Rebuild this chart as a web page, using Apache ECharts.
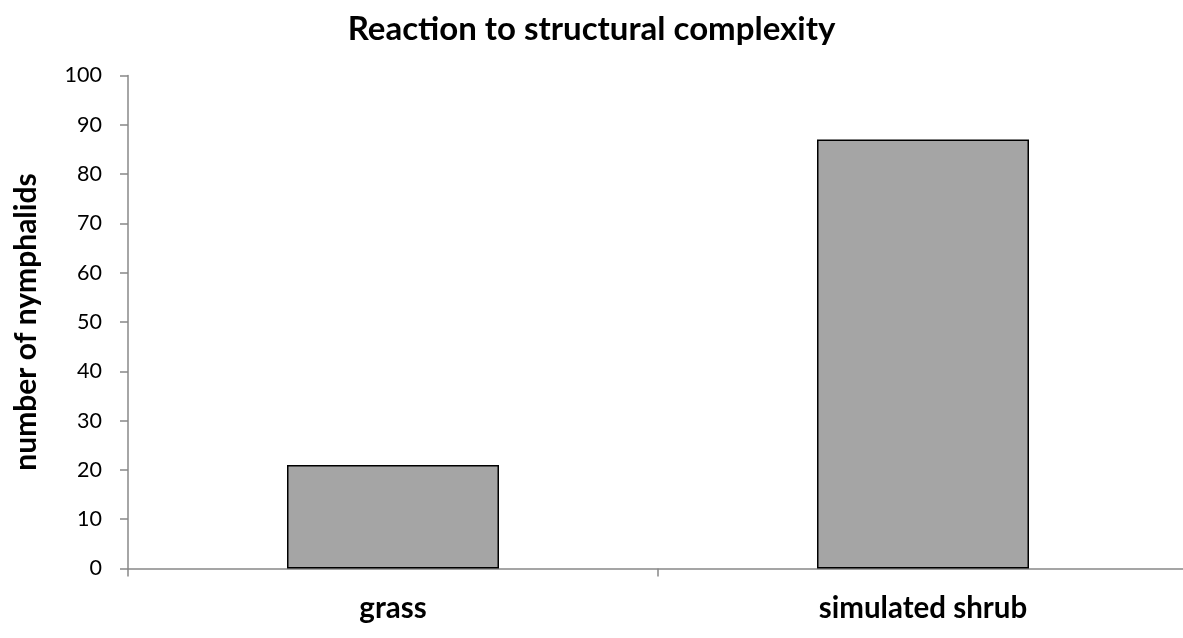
<!DOCTYPE html>
<html>
<head>
<meta charset="utf-8">
<script src="https://cdn.jsdelivr.net/npm/echarts@6/dist/echarts.min.js"></script>
<style>
  html, body { margin: 0; padding: 0; background: #fff; }
  #chart { width: 1183px; height: 638px; }
</style>
</head>
<body>
<div id="chart"></div>
<script>
// Nymphalid counts by habitat structure
const categories = ['grass', 'simulated shrub'];
const counts = [21, 87];
const yTicks = { min: 0, max: 100, interval: 10 };

const FONT = 'Lato';
const chart = echarts.init(document.getElementById('chart'), null, { renderer: 'canvas' });

chart.setOption({
  animation: false,
  backgroundColor: '#ffffff',
  title: {
    text: 'Reaction to structural complexity',
    left: 'center',
    top: 8,
    textStyle: { fontFamily: FONT, fontWeight: 'bold', fontSize: 33, color: '#000' }
  },
  grid: {
    left: 128, right: -5, top: 75.5, bottom: 69.5,
    containLabel: false, outerBoundsMode: 'none'
  },
  xAxis: {
    type: 'category',
    data: categories,
    axisLine: { lineStyle: { color: '#888', width: 1.5 } },
    axisTick: { show: true, length: 8, lineStyle: { color: '#888', width: 1.5 } },
    axisLabel: { margin: 25, fontFamily: FONT, fontWeight: 'bold', fontSize: 29.5, color: '#000' },
    splitLine: { show: false }
  },
  yAxis: {
    type: 'value',
    min: yTicks.min,
    max: yTicks.max,
    interval: yTicks.interval,
    name: 'number of nymphalids',
    nameLocation: 'middle',
    nameGap: 87,
    nameRotate: 90,
    nameTextStyle: { fontFamily: FONT, fontWeight: 'bold', fontSize: 30, color: '#000' },
    axisLine: { show: true, lineStyle: { color: '#888', width: 1.5 } },
    axisTick: { show: true, length: 8, lineStyle: { color: '#888', width: 1.5 } },
    axisLabel: { margin: 26, fontFamily: FONT, fontSize: 21.5, color: '#000' },
    splitLine: { show: false }
  },
  series: [{
    type: 'bar',
    data: counts,
    barWidth: '40%',
    itemStyle: { color: '#a5a5a5', borderColor: '#000', borderWidth: 1.5 }
  }]
});
</script>
</body>
</html>
